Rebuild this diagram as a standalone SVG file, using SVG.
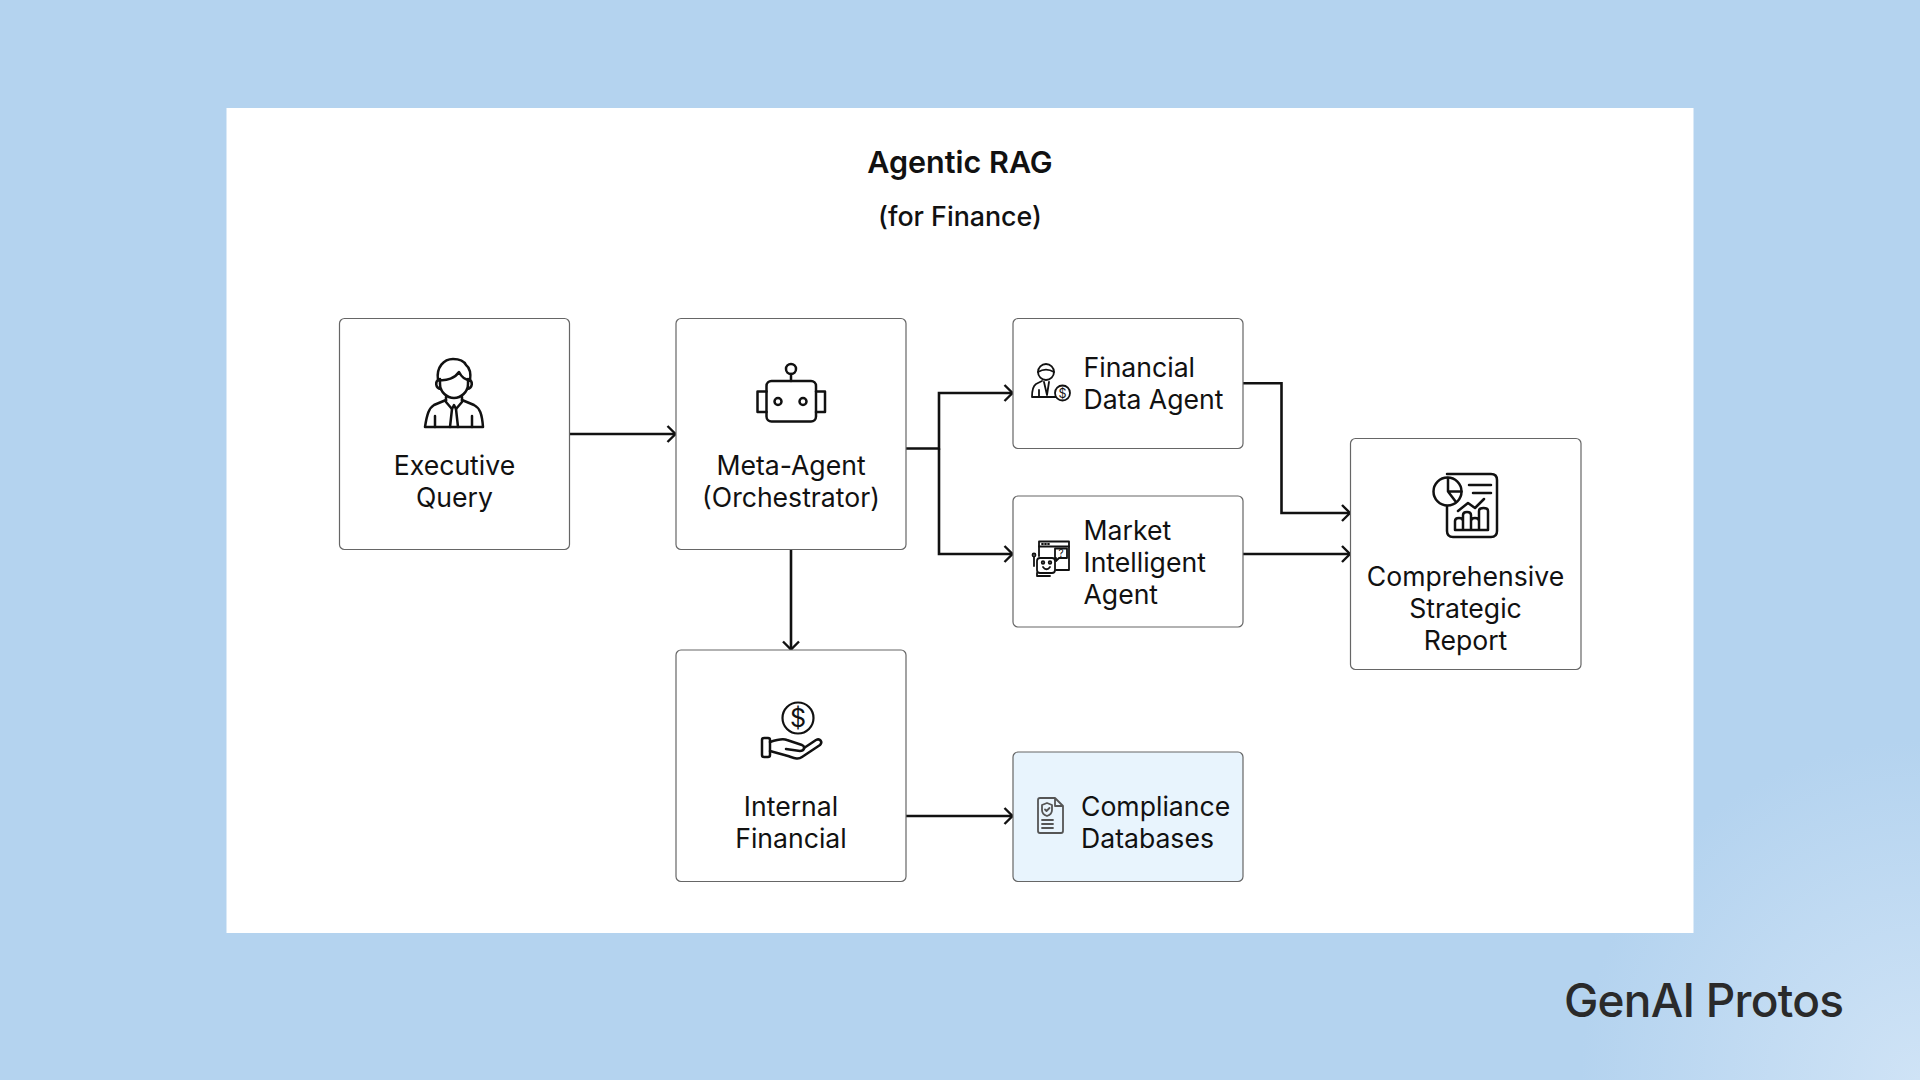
<svg xmlns="http://www.w3.org/2000/svg" width="1920" height="1080" viewBox="0 0 1920 1080">
<style>
text{font-family:"Inter","Liberation Sans",sans-serif;fill:#111}
.l{font-size:26.600px}
.m{text-anchor:middle}
.box{fill:#fff;stroke:#666;stroke-width:1.2}
.i{fill:none;stroke:#111;stroke-width:2.500;stroke-linecap:round;stroke-linejoin:round}
.s{stroke-width:1.800}
.c{fill:none;stroke:#111;stroke-width:2.600;marker-end:url(#a)}
</style>
<defs>
<marker id="a" markerUnits="userSpaceOnUse" markerWidth="14" markerHeight="20" refX="10.500" refY="10" orient="auto"><path d="M2,2 L10,10 L2,18" fill="none" stroke="#111" stroke-width="2.400"/></marker>
<radialGradient id="bg" gradientUnits="userSpaceOnUse" cx="1920" cy="1080" r="340"><stop offset="0" stop-color="#cfe3f6"/><stop offset="1" stop-color="#b4d3ef"/></radialGradient>
</defs>
<rect width="1920" height="1080" fill="url(#bg)"/>
<rect x="226.500" y="108" width="1467" height="825" fill="#fff"/>
<text x="960" y="173" class="m" font-size="30.500" font-weight="600">Agentic RAG</text>
<text x="960" y="226" class="m" font-size="26.800" font-weight="500">(for Finance)</text>
<g id="connectors">
<path class="c" d="M569.500,434H676"/>
<path class="c" d="M906,448.500H939V393H1013"/>
<path class="c" d="M939,448.500V554H1013"/>
<path class="c" d="M791,550V650"/>
<path class="c" d="M906,816H1013"/>
<path class="c" d="M1243,383.300H1281.500V513H1350.500"/>
<path class="c" d="M1243,554H1350.500"/>
</g>
<g id="executive-query">
<rect class="box" x="339.500" y="318.500" width="230" height="231" rx="5"/>
<g class="i">
<path d="M438,380C436,367 444,359 453,359C459,359 464,361 466,365C470,368 471,374 470,381"/>
<path d="M439,380C447,381 455,378 459,372C461,376 465,380 470,380"/>
<path d="M440,379V384C440,392 447,398 454,398C461,398 468,392 468,384V379"/>
<path d="M439,380C435,381 435,388 441,389M469,380C473,381 473,388 467,389"/>
<path d="M446,397V402L452,409L454,405L456,409L462,402V397"/>
<path d="M446,400L434,405C429,408 427,414 425,427H483C482,414 480,408 474,405L462,400"/>
<path d="M452,409L450,427M456,409L458,427M435,416V427M472,416V427"/>
</g>
<text x="454.500" y="475" class="l m">Executive</text>
<text x="454.500" y="507" class="l m">Query</text>
</g>
<g id="meta-agent">
<rect class="box" x="676" y="318.500" width="230" height="231" rx="5"/>
<g class="i">
<circle cx="791" cy="369" r="5"/>
<path d="M791,374V381"/>
<rect x="766.500" y="381" width="49.500" height="40.500" rx="5"/>
<path d="M766.500,391.500H757.500V412H766.500M816,391.500H825V412H816"/>
<circle cx="778" cy="401.500" r="3.500"/>
<circle cx="803" cy="401.500" r="3.500"/>
</g>
<text x="791" y="475" class="l m">Meta-Agent</text>
<text x="791" y="507" class="l m">(Orchestrator)</text>
</g>
<g id="financial-data-agent">
<rect class="box" x="1013" y="318.500" width="230" height="130" rx="5"/>
<g class="i s">
<circle cx="1046" cy="372" r="8"/>
<path d="M1038,372C1043,369 1049,369 1054,372"/>
<path d="M1042,381L1036,384C1033,386 1032,392 1032,397H1056"/>
<path d="M1044,382L1047,395M1049,382L1047,395M1039,390V396"/>
<circle cx="1062.500" cy="393" r="7.500" fill="#fff"/>
</g>
<text x="1062.500" y="397.500" font-size="12.500" text-anchor="middle">$</text>
<text x="1083.500" y="377" class="l">Financial</text>
<text x="1083.500" y="409" class="l">Data Agent</text>
</g>
<g id="market-intelligent-agent">
<rect class="box" x="1013" y="496" width="230" height="131" rx="5"/>
<g class="i s">
<path d="M1039,556V541.500H1069V570H1056"/>
<path d="M1039,546.500H1069M1042,544H1043M1045,544H1046M1048,544H1049"/>
<path d="M1055,548.500H1067V558H1059L1056,561V558H1055Z" fill="#fff"/>
<rect x="1037" y="558" width="18" height="15" rx="3" fill="#fff"/>
<circle cx="1043" cy="562.500" r="1.300"/>
<circle cx="1050" cy="562.500" r="1.300"/>
<path d="M1043,567C1045,570 1048,570 1050,567"/>
<path d="M1034,557V566M1037,573V576H1050"/>
<circle cx="1034" cy="555" r="1.500"/>
</g>
<text x="1061" y="557" font-size="10" text-anchor="middle">?</text>
<text x="1083.500" y="540" class="l">Market</text>
<text x="1083.500" y="572" class="l">Intelligent</text>
<text x="1083.500" y="604" class="l">Agent</text>
</g>
<g id="strategic-report">
<rect class="box" x="1350.500" y="438.500" width="230.500" height="231" rx="5"/>
<g class="i">
<path d="M1447,474H1491C1495,474 1497,476 1497,480V531C1497,535 1495,537 1491,537H1453C1449,537 1447,535 1447,531V505"/>
<circle cx="1447.500" cy="491.500" r="14" fill="#fff"/>
<path d="M1448,478V491.500H1461.500M1448,491.500L1456,502"/>
<path d="M1469,485H1491M1473,493H1491"/>
<path d="M1458,511L1468,503L1475,508L1484,499"/>
<path d="M1455,530V521C1455,517 1463,517 1463,521V530M1463,530V515C1463,511 1471,511 1471,515V530M1471,530V521C1471,517 1479,517 1479,521V530M1479,530V511C1479,507 1488,507 1488,511V530ZM1455,530H1488"/>
</g>
<text x="1465.500" y="585.500" class="l m">Comprehensive</text>
<text x="1465.500" y="617.500" class="l m">Strategic</text>
<text x="1465.500" y="650" class="l m">Report</text>
</g>
<g id="internal-financial">
<rect class="box" x="676" y="650" width="230" height="231.500" rx="5"/>
<g class="i">
<circle cx="798" cy="718" r="15.500" stroke-width="2.200"/>
<rect x="762" y="738" width="8" height="19" rx="2"/>
<path d="M770,742C776,740 782,738 787,740L802,745C806,747 804,751 800,751L786,749"/>
<path d="M804,748L816,740C820,738 823,742 820,745L802,757C798,760 794,758 788,756L770,751"/>
</g>
<text x="798" y="727" font-size="25" text-anchor="middle">$</text>
<text x="791" y="816" class="l m">Internal</text>
<text x="791" y="848" class="l m">Financial</text>
</g>
<g id="compliance-databases">
<rect class="box" x="1013" y="752" width="230" height="129.500" rx="5" style="fill:#e8f4fd"/>
<g class="i s" style="stroke:#555">
<path d="M1055,798H1040C1038.500,798 1038,799 1038,800V831C1038,832.500 1039,833 1040,833H1061C1062.500,833 1063,832 1063,831V806ZM1055,798V806H1063"/>
<path d="M1047,803L1052,805V810C1052,813 1050,815 1047,816C1044,815 1042,813 1042,810V805Z"/>
<path d="M1045,809.500L1046.500,811L1049.500,808M1042,820H1053M1042,824H1053M1042,828H1053"/>
</g>
<text x="1081" y="816" class="l">Compliance</text>
<text x="1081" y="848" class="l">Databases</text>
</g>
<text x="1564" y="1017" font-size="46" font-weight="500" style="fill:#2a2a2a" textLength="280" lengthAdjust="spacing">GenAI Protos</text>
</svg>
